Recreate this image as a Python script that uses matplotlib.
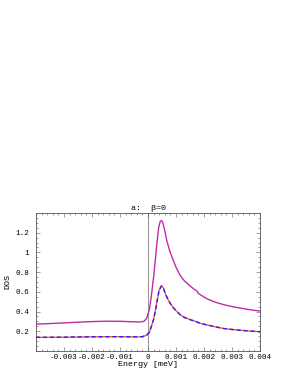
import numpy as np
import matplotlib
matplotlib.use('Agg')
import matplotlib.pyplot as plt
from matplotlib.ticker import MultipleLocator

# magenta (upper) curve
e_up = [-0.004, -0.0035, -0.003, -0.0025, -0.002, -0.0015, -0.001, -0.0006, -0.0003,
        -0.00015, -0.00005, 0.00005, 0.00012, 0.0002, 0.00026, 0.00032, 0.00038,
        0.00043, 0.00048, 0.00053, 0.0006, 0.00067, 0.00078, 0.0009, 0.001, 0.00114,
        0.0013, 0.0015, 0.00165, 0.00176, 0.00179, 0.0019, 0.0021, 0.0024, 0.0027,
        0.003, 0.0033, 0.0036, 0.004]
dos_up = [0.272, 0.278, 0.285, 0.292, 0.298, 0.302, 0.301, 0.297, 0.294,
          0.30, 0.33, 0.42, 0.56, 0.75, 0.92, 1.10, 1.25,
          1.31, 1.325, 1.30, 1.22, 1.12, 1.01, 0.92, 0.85, 0.77,
          0.71, 0.66, 0.625, 0.605, 0.585, 0.565, 0.53, 0.495, 0.47,
          0.45, 0.435, 0.42, 0.405]

# lower curve (red / blue dashed, overlapping)
e_lo = [-0.004, -0.003, -0.002, -0.001, -0.0004, -0.0002, -0.00005, 0.00005, 0.00012,
        0.0002, 0.00027, 0.00034, 0.0004, 0.00048, 0.00055, 0.00062, 0.0007, 0.0008,
        0.0009, 0.001, 0.00114, 0.0013, 0.0015, 0.0017, 0.00178, 0.0019, 0.0021,
        0.0024, 0.0027, 0.003, 0.0033, 0.0036, 0.004]
dos_lo = [0.138, 0.140, 0.144, 0.145, 0.143, 0.145, 0.16, 0.19, 0.25,
          0.32, 0.42, 0.53, 0.62, 0.66, 0.64, 0.58, 0.53, 0.48,
          0.44, 0.41, 0.37, 0.34, 0.318, 0.30, 0.29, 0.278, 0.265,
          0.245, 0.228, 0.218, 0.21, 0.203, 0.195]

xticks = [-0.003, -0.002, -0.001, 0, 0.001, 0.002, 0.003, 0.004]
xlabels = ['-0.003', '-0.002', '-0.001', '0', '0.001', '0.002', '0.003', '0.004']
yticks = [0.2, 0.4, 0.6, 0.8, 1.0, 1.2]
ylabels = ['0.2', '0.4', '0.6', '0.8', '1', '1.2']

plt.rcParams['font.family'] = ['Liberation Mono', 'DejaVu Sans']
plt.rcParams['axes.unicode_minus'] = False

fig = plt.figure(figsize=(2.83, 3.72), dpi=100)
ax = fig.add_axes([0.127, 0.0565, 0.792, 0.371])

ax.axvline(0, color='#999999', lw=0.8, zorder=1)
ax.plot(e_up, dos_up, color='#c02ca8', lw=1.0, zorder=3)
ax.plot(e_lo, dos_lo, color='#ff5a4a', lw=1.0, zorder=3)
ax.plot(e_lo, dos_lo, color='#2020ff', lw=1.0, dashes=(3, 2), zorder=4)

ax.set_xlim(-0.004, 0.004)
ax.set_ylim(0, 1.4)
ax.set_xticks(xticks)
ax.set_xticklabels(xlabels)
ax.set_yticks(yticks)
ax.set_yticklabels(ylabels)
ax.xaxis.set_minor_locator(MultipleLocator(0.0002))
ax.yaxis.set_minor_locator(MultipleLocator(0.05))
ax.tick_params(which='both', direction='in', top=True, right=True,
               labelsize=5.5, width=0.4, color='#555555')
ax.tick_params(axis='x', pad=2)
ax.tick_params(axis='y', pad=5)
ax.tick_params(which='major', length=3)
ax.tick_params(which='minor', length=1.5)
for s in ax.spines.values():
    s.set_linewidth(0.6)
    s.set_color('#555555')

ax.set_xlabel('Energy [meV]', fontsize=6, labelpad=0.5)
ax.set_ylabel('DOS', fontsize=6, labelpad=3)
ax.set_title('a:  β=0', fontsize=6, pad=2)

fig.savefig('out.png', dpi=100)
